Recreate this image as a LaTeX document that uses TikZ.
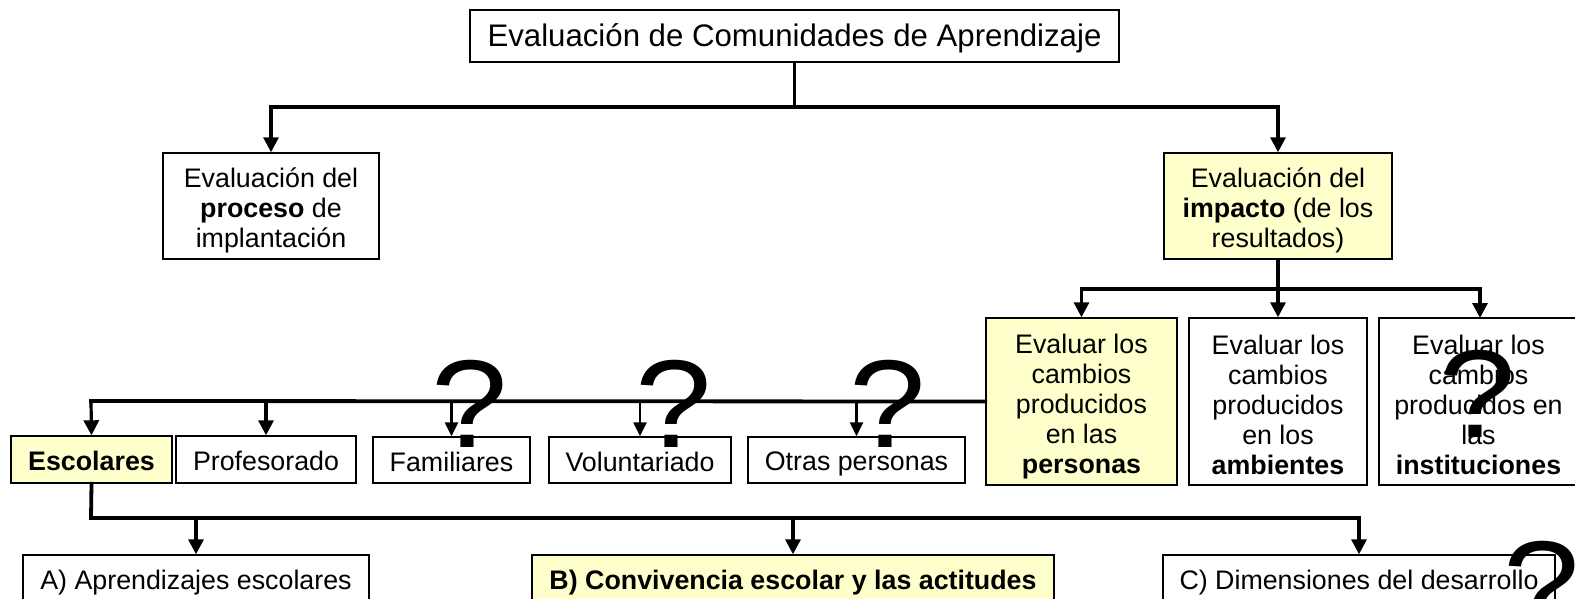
\documentclass[tikz,border=0pt]{standalone}
\usepackage{fontspec}
\setmainfont{Liberation Sans}
\usetikzlibrary{arrows.meta}
\tikzset{
  box/.style={draw=black,line width=1.4pt,fill=white,align=center,inner sep=0pt,font=\fontsize{26.8}{30}\selectfont,
    execute at begin node={\rule{0pt}{26pt}},execute at end node={\rule[-4pt]{0pt}{4pt}}},
  hl/.style={fill=yellowbox},
  trunk/.style={line width=3.8pt,line cap=rect},
  arr/.style={line width=3.2pt,-{Triangle[length=15pt,width=15pt]}},
  thinarr/.style={line width=2.4pt,-{Triangle[length=14pt,width=13pt]}},
  qm/.style={inner sep=0pt,font=\fontsize{125}{125}\selectfont}
}
\definecolor{yellowbox}{HTML}{FFFFCC}
\newcommand{\bx}[6][]{\node[box,#1,minimum width=#5pt-#3pt,minimum height=#6pt-#4pt] (#2) at ({(#3+#5)/2},{(#4+#6)/2})}
\newcommand{\qmark}{\scalebox{1.1}[1]{?}}
\newcommand{\mtop}{\rule{0pt}{29pt}}
\newcommand{\ntop}{\rule{0pt}{28pt}}
\begin{document}
\begin{tikzpicture}[x=1pt,y=-1pt]
\useasboundingbox (0,0) rectangle (1575,599);
\clip (0,0) rectangle (1575,599);
\fill[white] (0,0) rectangle (1575,599);
% boxes
\bx{title}{470}{10}{1119}{62} {\fontsize{31.2}{36}\selectfont\rule{0pt}{28pt}Evaluación de Comunidades de Aprendizaje};
\bx{proceso}{163}{153}{379}{259} {\ntop Evaluación del\\\textbf{proceso} de\\implantación};
\bx[hl]{impacto}{1164}{153}{1392}{259} {\ntop Evaluación del\\\textbf{impacto} (de los\\resultados)};
\bx[hl]{personas}{986}{318}{1177}{485} {\mtop Evaluar los\\cambios\\producidos\\en las\\\textbf{personas}};
\bx{ambientes}{1189}{318}{1367}{485} {\mtop Evaluar los\\cambios\\producidos\\en los\\\textbf{ambientes}};
\bx{instituciones}{1379}{318}{1578}{485} {\mtop Evaluar los\\cambios\\producidos en\\las\\\textbf{instituciones}};
\bx[hl]{escolares}{11}{436}{172}{483} {\textbf{Escolares}};
\bx{profesorado}{176}{436}{356}{483} {Profesorado};
\bx{familiares}{373}{437}{530}{483} {Familiares};
\bx{voluntariado}{549}{437}{731}{483} {Voluntariado};
\bx{otras}{748}{437}{965}{483} {Otras personas};
\bx{aprend}{23}{555}{369}{604} {A) Aprendizajes escolares};
\bx[hl]{conviv}{532}{555}{1054}{604} {\textbf{B) Convivencia escolar y las actitudes}};
\bx{dimens}{1163}{555}{1555}{604} {C) Dimensiones del desarrollo};
% junctions
\coordinate (j1) at (794.5,107);
\coordinate (j2) at (1278,289);
\coordinate (j3) at (91,518);
\coordinate (j4) at (91,401);
\coordinate (instop) at (1480,318);
% connectors
\draw[trunk] (title.south) -- (j1);
\draw[arr] (j1) -| (proceso.north);
\draw[arr] (j1) -| (impacto.north);
\draw[trunk] (impacto.south) -- (j2);
\draw[arr] (j2) -| (personas.north);
\draw[arr] (j2) -- (ambientes.north);
\draw[arr] (j2) -| (instop);
\draw[trunk] (personas.west) -- (j4);
\draw[arr] (j4) -- (escolares.north);
\draw[arr] (profesorado.north|-j4) -- (profesorado.north);
\draw[thinarr] (familiares.north|-j4) -- (familiares.north);
\draw[thinarr] (voluntariado.north|-j4) -- (voluntariado.north);
\draw[thinarr] (otras.north|-j4) -- (otras.north);
\draw[trunk] (escolares.south) -- (j3);
\draw[trunk] (j3) -- (j3-|dimens.north);
\draw[arr] (aprend.north|-j3) -- (aprend.north);
\draw[arr] (conviv.north|-j3) -- (conviv.north);
\draw[arr] (dimens.north|-j3) -- (dimens.north);
% question marks
\node[qm,anchor=base] (q1) at (470,447.7) {\qmark};
\node[qm,anchor=base] (q2) at (674,447.7) {\qmark};
\node[qm,anchor=base] (q3) at (888,447.7) {\qmark};
\node[qm,anchor=base] (q4) at (1478,437) {\qmark};
\node[qm,anchor=base] (q5) at (1542,628) {\qmark};
\end{tikzpicture}
\end{document}
